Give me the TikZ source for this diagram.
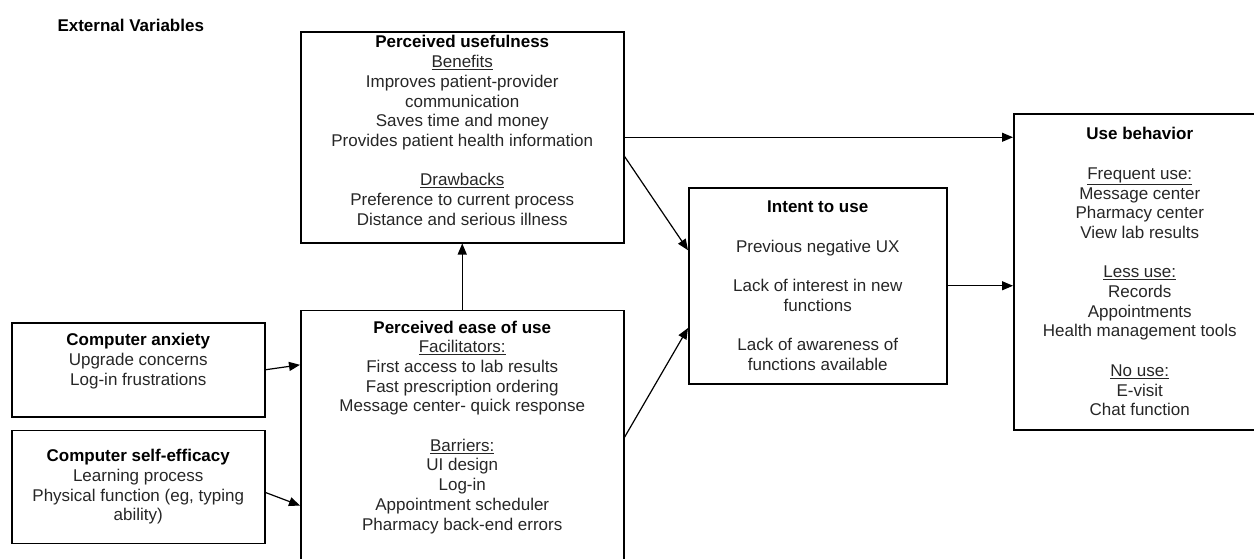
\documentclass[tikz,border=0pt]{standalone}
\usepackage{fontspec}
\setmainfont{Liberation Sans}
\usetikzlibrary{positioning, arrows.meta, calc}

\begin{document}
\begin{tikzpicture}[
    x=1pt, y=-1pt,
    block/.style={rectangle, draw, line width=1.5pt, inner sep=0pt, align=center, text=black!85},
    arrow/.style={-{Triangle[length=11pt, width=9pt]}, line width=1.2pt},
    every node/.style={font=\fontsize{17}{19.7}\selectfont}
]
\useasboundingbox (0,0) rectangle (1254,558);

% Heading
\node[anchor=west, font=\fontsize{17}{19.7}\selectfont\bfseries] (extvar) at (54,25) {External Variables};

% Perceived usefulness and ease of use
\node[block, anchor=north west, minimum width=323pt, minimum height=211pt] (pu) at (300,31) {%
    \textcolor{black}{\textbf{Perceived usefulness}}\\
    \underline{Benefits}\\
    Improves patient-provider\\
    communication\\
    Saves time and money\\
    Provides patient health information\\[19.7pt]
    \underline{Drawbacks}\\
    Preference to current process\\
    Distance and serious illness\\[-6pt]\mbox{}};

\node[block, below=66pt of pu, minimum width=323pt, minimum height=262pt] (peou) {%
    \textcolor{black}{\textbf{Perceived ease of use}}\\
    \underline{Facilitators:}\\
    First access to lab results\\
    Fast prescription ordering\\
    Message center- quick response\\[19.7pt]
    \underline{Barriers:}\\
    UI design\\
    Log-in\\
    Appointment scheduler\\
    Pharmacy back-end errors\\[12pt]\mbox{}};

% External variables
\node[block, anchor=north west, minimum width=253pt, minimum height=94pt] (anx) at (11,322) {%
    \textcolor{black}{\textbf{Computer anxiety}}\\
    Upgrade concerns\\
    Log-in frustrations\\[1pt]\mbox{}};

\node[block, below=12pt of anx, minimum width=253pt, minimum height=113pt] (eff) {%
    \textcolor{black}{\textbf{Computer self-efficacy}}\\
    Learning process\\
    Physical function (eg, typing\\
    ability)};

% Intent and behavior
\node[block, anchor=north west, minimum width=258pt, minimum height=196pt] (intent) at (688,187) {%
    \textcolor{black}{\textbf{Intent to use}}\\[19.7pt]
    Previous negative UX\\[19.7pt]
    Lack of interest in new\\
    functions\\[19.7pt]
    Lack of awareness of\\
    functions available};

\node[block, anchor=north west, minimum width=252pt, minimum height=316pt] (use) at (1013,113) {%
    \textcolor{black}{\textbf{Use behavior}}\\[19.7pt]
    \underline{Frequent use:}\\
    Message center\\
    Pharmacy center\\
    View lab results\\[19.7pt]
    \underline{Less use:}\\
    Records\\
    Appointments\\
    Health management tools\\[19.7pt]
    \underline{No use:}\\
    E-visit\\
    Chat function};

% Connectors
\draw[arrow] (anx.east) -- ($(peou.north west)!0.21!(peou.south west)$);
\draw[arrow] ($(eff.north east)!0.55!(eff.south east)$) -- ($(peou.north west)!0.744!(peou.south west)$);
\draw[arrow] (peou) -- (pu);
\draw[arrow] (pu.east) -- (pu.east -| use.west);
\draw[arrow] ($(pu.north east)!0.59!(pu.south east)$) -- ($(intent.north west)!0.32!(intent.south west)$);
\draw[arrow] ($(peou.north east)!0.485!(peou.south east)$) -- ($(intent.north west)!0.714!(intent.south west)$);
\draw[arrow] (intent.east) -- (intent.east -| use.west);

\end{tikzpicture}
\end{document}
